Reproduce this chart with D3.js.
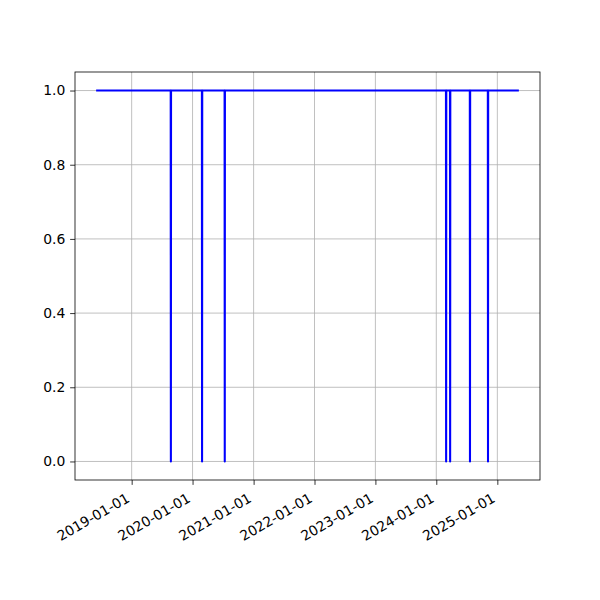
<!DOCTYPE html>
<html>
<head>
<meta charset="utf-8">
<script src="https://cdn.jsdelivr.net/npm/d3@7"></script>
<style>
  html, body { margin: 0; padding: 0; background: #fff; }
  text { font-family: "DejaVu Sans", sans-serif; }
</style>
</head>
<body>
<svg id="chart" width="600" height="600"></svg>
<script>
// Series points (date, value)
const dates = [
  "2018-06-02",
  "2019-08-23", "2019-08-24", "2019-08-25",
  "2020-02-26", "2020-02-27", "2020-02-28",
  "2020-07-11", "2020-07-12", "2020-07-13",
  "2024-02-28", "2024-02-29", "2024-03-01",
  "2024-03-23", "2024-03-24", "2024-03-25",
  "2024-07-20", "2024-07-21", "2024-07-22",
  "2024-11-05", "2024-11-06", "2024-11-07",
  "2025-05-10"
];
const values = [
  1,
  1, 0, 1,
  1, 0, 1,
  1, 0, 1,
  1, 0, 1,
  1, 0, 1,
  1, 0, 1,
  1, 0, 1,
  1
];
const xTickLabels = ["2019-01-01","2020-01-01","2021-01-01","2022-01-01","2023-01-01","2024-01-01","2025-01-01"];
const yTickValues = [0.0, 0.2, 0.4, 0.6, 0.8, 1.0];

const parse = d3.utcParse("%Y-%m-%d");
const data = dates.map((d, i) => ({ t: parse(d), v: values[i] }));

const svg = d3.select("#chart");
const L = 75, R = 540, T = 72, B = 480;

const tExt = d3.extent(data, d => d.t);
const span = tExt[1] - tExt[0];
const x = d3.scaleUtc()
  .domain([new Date(+tExt[0] - span * 0.05), new Date(+tExt[1] + span * 0.05)])
  .range([L, R]);
const y = d3.scaleLinear().domain([-0.05, 1.05]).range([B, T]);

const xTicks = xTickLabels.map(parse);

// grid
const grid = svg.append("g");
grid.selectAll("line.gx").data(xTicks).enter().append("line")
  .attr("x1", d => x(d)).attr("x2", d => x(d))
  .attr("y1", T).attr("y2", B)
  .attr("stroke", "#b0b0b0").attr("stroke-width", 0.8);
grid.selectAll("line.gy").data(yTickValues).enter().append("line")
  .attr("x1", L).attr("x2", R)
  .attr("y1", d => y(d)).attr("y2", d => y(d))
  .attr("stroke", "#b0b0b0").attr("stroke-width", 0.8);

// line
const line = d3.line().x(d => x(d.t)).y(d => y(d.v));
svg.append("path").datum(data)
  .attr("d", line)
  .attr("fill", "none")
  .attr("stroke", "#0000ff")
  .attr("stroke-width", 2.08)
  .attr("stroke-linejoin", "round")
  .attr("stroke-linecap", "butt");

// axes
const fontSize = 13.9;
const yAxis = d3.axisLeft(y).tickValues(yTickValues).tickFormat(d3.format(".1f"))
  .tickSize(4.86).tickPadding(4.86);
const gy = svg.append("g").attr("transform", `translate(${L},0)`).call(yAxis);
gy.select(".domain").remove();
gy.selectAll(".tick line").attr("stroke", "#000").attr("stroke-width", 0.8);
gy.selectAll(".tick text").attr("font-size", fontSize).attr("fill", "#000")
  .attr("font-family", "DejaVu Sans");

const xAxis = d3.axisBottom(x).tickValues(xTicks).tickFormat(d3.utcFormat("%Y-%m-%d"))
  .tickSize(4.86);
const gx = svg.append("g").attr("transform", `translate(0,${B})`).call(xAxis);
gx.select(".domain").remove();
gx.selectAll(".tick line").attr("stroke", "#000").attr("stroke-width", 0.8);
gx.selectAll(".tick text")
  .attr("font-size", fontSize).attr("fill", "#000").attr("font-family", "DejaVu Sans")
  .attr("text-anchor", "end")
  .attr("dy", null)
  .attr("y", 0)
  .attr("transform", "translate(-1.6,21) rotate(-30)");

// spines
svg.append("rect").attr("x", L).attr("y", T).attr("width", R - L).attr("height", B - T)
  .attr("fill", "none").attr("stroke", "#000").attr("stroke-width", 0.8);
</script>
</body>
</html>
